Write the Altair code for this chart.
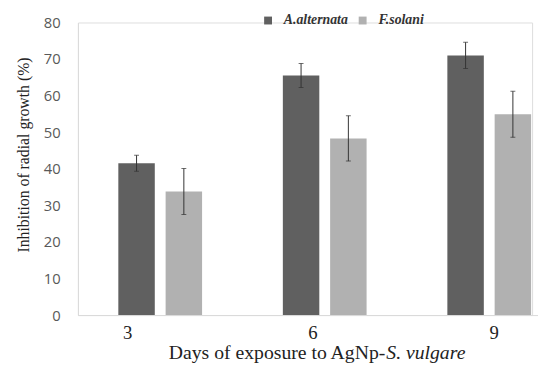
import altair as alt
import pandas as pd

days = ["3", "6", "9"]
series = ["A.alternata", "F.solani"]
alt_vals = [41.5, 65.5, 71.0]
alt_err = [2.2, 3.3, 3.6]
sol_vals = [33.8, 48.3, 54.9]
sol_err = [6.3, 6.2, 6.3]
y_ticks = [0, 10, 20, 30, 40, 50, 60, 70, 80]

rows = []
for d, v, e in zip(days, alt_vals, alt_err):
    rows.append({"day": d, "series": series[0], "value": v, "lo": v - e, "hi": v + e})
for d, v, e in zip(days, sol_vals, sol_err):
    rows.append({"day": d, "series": series[1], "value": v, "lo": v - e, "hi": v + e})
df = pd.DataFrame(rows)

xenc = alt.X("day:N", sort=days,
             scale=alt.Scale(range=[0, 501], paddingInner=0, paddingOuter=0),
             axis=alt.Axis(title=None, labelAngle=0, ticks=False, labelFont="Liberation Serif",
                           labelFontSize=19, labelColor="#222222", labelPadding=9,
                           labelOffset={"condition": [
                               {"test": "datum.value == '3'", "value": -33},
                               {"test": "datum.value == '6'", "value": -12}],
                               "value": 5},
                           domainColor="#d9d9d9", domainWidth=1))
xoff = alt.XOffset("series:N", sort=series,
                   scale=alt.Scale(paddingInner=0.229, paddingOuter=0.854))
yscale = alt.Scale(domain=[0, 80])
yaxis = alt.Axis(title="Inhibition of radial growth (%)", values=y_ticks,
                 labelOverlap=False, grid=False, ticks=False, labelFont="Open Sans",
                 labelFontSize=15, labelColor="#595959", labelPadding=18,
                 domainColor="#d9d9d9",
                 titleFont="Liberation Serif", titleFontSize=16, titleFontWeight="normal",
                 titleColor="#222222", titleX=-47, titleY=134)

base = alt.Chart(df)

bars = base.mark_bar(clip=True).encode(
    x=xenc,
    xOffset=xoff,
    y=alt.Y("value:Q", scale=yscale, axis=yaxis),
    color=alt.Color("series:N", sort=series,
                    scale=alt.Scale(domain=series, range=["#606060", "#b1b1b1"]),
                    legend=alt.Legend(title=None, orient="none", legendX=186, legendY=-9,
                                      direction="horizontal", symbolType="square", symbolSize=64,
                                      symbolStrokeWidth=0, labelFont="Liberation Serif",
                                      labelFontStyle="italic", labelFontWeight="bold",
                                      labelFontSize=14, labelColor="#333333", columnPadding=8,
                                      labelOffset=9)),
)

err = base.mark_rule(color="#333333", strokeWidth=1, clip=True).encode(
    x=xenc, xOffset=xoff,
    y=alt.Y("lo:Q", scale=yscale, axis=yaxis), y2="hi:Q",
)
caps_hi = base.mark_tick(color="#333333", thickness=1, size=5, clip=True).encode(
    x=xenc, xOffset=xoff, y=alt.Y("hi:Q", scale=yscale, axis=yaxis),
)
caps_lo = base.mark_tick(color="#333333", thickness=1, size=5, clip=True).encode(
    x=xenc, xOffset=xoff, y=alt.Y("lo:Q", scale=yscale, axis=yaxis),
)

tdf = pd.DataFrame({"a": ["Days of exposure to AgNp-"], "b": ["S. vulgare"]})
t1 = alt.Chart(tdf).mark_text(align="right", baseline="alphabetic", font="Liberation Serif",
                              fontSize=20, color="#222222").encode(
    text="a:N", x=alt.value(312), y=alt.value(342))
t2 = alt.Chart(tdf).mark_text(align="left", baseline="alphabetic", font="Liberation Serif",
                              fontSize=20, fontStyle="italic", color="#222222").encode(
    text="b:N", x=alt.value(313), y=alt.value(342))

chart = alt.layer(bars, err, caps_hi, caps_lo, t1, t2).properties(
    width=461, height=297,
    autosize=alt.AutoSizeParams(type="none"),
    padding={"left": 71, "top": 12, "right": 6, "bottom": 51},
).configure_view(stroke=None).configure(background="white")

chart.save("out.html", embed_options={"renderer": "svg", "actions": False})
